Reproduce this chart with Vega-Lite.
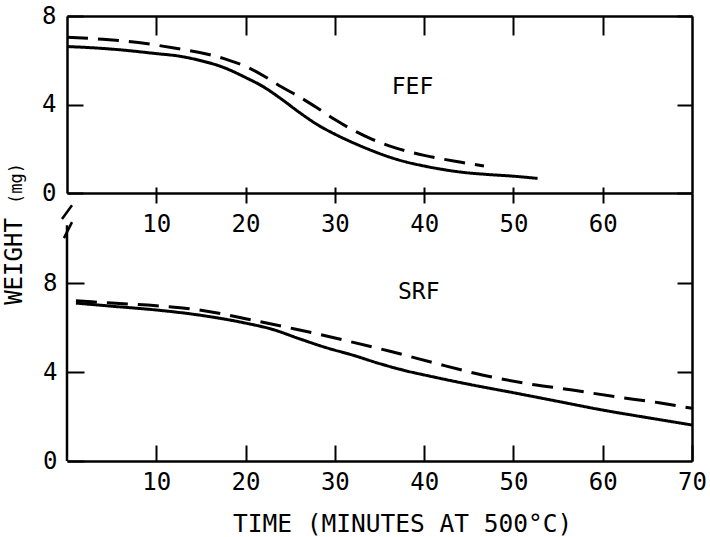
{
  "$schema": "https://vega.github.io/schema/vega-lite/v6.json",
  "padding": {"left": 2, "top": 4, "right": 17, "bottom": 60},
  "bounds": "flush",
  "spacing": 0,
  "config": {
    "view": {"stroke": null},
    "font": "DejaVu Sans Mono",
    "axis": {
      "grid": false,
      "domainColor": "black",
      "domainWidth": 2.5,
      "tickColor": "black",
      "tickWidth": 2,
      "labelColor": "black",
      "labelFont": "DejaVu Sans Mono",
      "labelFontSize": 24,
      "labelFlush": false,
      "titleFont": "DejaVu Sans Mono",
      "titleColor": "black",
      "titleFontWeight": "normal"
    }
  },
  "datasets": {
    "curves": [
      {"panel": "FEF", "run": "A", "time": 0, "weight": 6.62},
      {"panel": "FEF", "run": "A", "time": 3, "weight": 6.56},
      {"panel": "FEF", "run": "A", "time": 6, "weight": 6.47},
      {"panel": "FEF", "run": "A", "time": 10, "weight": 6.3},
      {"panel": "FEF", "run": "A", "time": 12.5, "weight": 6.19},
      {"panel": "FEF", "run": "A", "time": 15, "weight": 5.98},
      {"panel": "FEF", "run": "A", "time": 17.5, "weight": 5.68},
      {"panel": "FEF", "run": "A", "time": 20, "weight": 5.22},
      {"panel": "FEF", "run": "A", "time": 22, "weight": 4.8},
      {"panel": "FEF", "run": "A", "time": 24, "weight": 4.25},
      {"panel": "FEF", "run": "A", "time": 26, "weight": 3.65},
      {"panel": "FEF", "run": "A", "time": 28, "weight": 3.1},
      {"panel": "FEF", "run": "A", "time": 30, "weight": 2.66},
      {"panel": "FEF", "run": "A", "time": 32, "weight": 2.28},
      {"panel": "FEF", "run": "A", "time": 34, "weight": 1.94},
      {"panel": "FEF", "run": "A", "time": 36, "weight": 1.64},
      {"panel": "FEF", "run": "A", "time": 38, "weight": 1.4},
      {"panel": "FEF", "run": "A", "time": 40, "weight": 1.22},
      {"panel": "FEF", "run": "A", "time": 42, "weight": 1.07},
      {"panel": "FEF", "run": "A", "time": 44, "weight": 0.95},
      {"panel": "FEF", "run": "A", "time": 47, "weight": 0.84},
      {"panel": "FEF", "run": "A", "time": 50, "weight": 0.76},
      {"panel": "FEF", "run": "A", "time": 52.7, "weight": 0.66},
      {"panel": "FEF", "run": "B", "time": 0, "weight": 7.04},
      {"panel": "FEF", "run": "B", "time": 4, "weight": 6.95},
      {"panel": "FEF", "run": "B", "time": 8, "weight": 6.8},
      {"panel": "FEF", "run": "B", "time": 12, "weight": 6.55},
      {"panel": "FEF", "run": "B", "time": 16, "weight": 6.25},
      {"panel": "FEF", "run": "B", "time": 18, "weight": 6.02},
      {"panel": "FEF", "run": "B", "time": 20, "weight": 5.72},
      {"panel": "FEF", "run": "B", "time": 22, "weight": 5.3},
      {"panel": "FEF", "run": "B", "time": 24, "weight": 4.8},
      {"panel": "FEF", "run": "B", "time": 26, "weight": 4.35},
      {"panel": "FEF", "run": "B", "time": 28, "weight": 3.85},
      {"panel": "FEF", "run": "B", "time": 30, "weight": 3.32},
      {"panel": "FEF", "run": "B", "time": 32, "weight": 2.85},
      {"panel": "FEF", "run": "B", "time": 34, "weight": 2.46},
      {"panel": "FEF", "run": "B", "time": 36, "weight": 2.14},
      {"panel": "FEF", "run": "B", "time": 38, "weight": 1.9},
      {"panel": "FEF", "run": "B", "time": 40, "weight": 1.7},
      {"panel": "FEF", "run": "B", "time": 42, "weight": 1.54},
      {"panel": "FEF", "run": "B", "time": 44, "weight": 1.4},
      {"panel": "FEF", "run": "B", "time": 46.7, "weight": 1.22},
      {"panel": "SRF", "run": "A", "time": 1, "weight": 7.1},
      {"panel": "SRF", "run": "A", "time": 5, "weight": 6.96},
      {"panel": "SRF", "run": "A", "time": 10, "weight": 6.79},
      {"panel": "SRF", "run": "A", "time": 15, "weight": 6.55},
      {"panel": "SRF", "run": "A", "time": 20, "weight": 6.2},
      {"panel": "SRF", "run": "A", "time": 23, "weight": 5.92},
      {"panel": "SRF", "run": "A", "time": 26, "weight": 5.5},
      {"panel": "SRF", "run": "A", "time": 29, "weight": 5.1},
      {"panel": "SRF", "run": "A", "time": 32, "weight": 4.76},
      {"panel": "SRF", "run": "A", "time": 35, "weight": 4.38},
      {"panel": "SRF", "run": "A", "time": 38, "weight": 4.05},
      {"panel": "SRF", "run": "A", "time": 40, "weight": 3.87},
      {"panel": "SRF", "run": "A", "time": 45, "weight": 3.45},
      {"panel": "SRF", "run": "A", "time": 50, "weight": 3.07},
      {"panel": "SRF", "run": "A", "time": 55, "weight": 2.68},
      {"panel": "SRF", "run": "A", "time": 60, "weight": 2.29},
      {"panel": "SRF", "run": "A", "time": 65, "weight": 1.95},
      {"panel": "SRF", "run": "A", "time": 70, "weight": 1.62},
      {"panel": "SRF", "run": "B", "time": 1, "weight": 7.2},
      {"panel": "SRF", "run": "B", "time": 5, "weight": 7.1},
      {"panel": "SRF", "run": "B", "time": 10, "weight": 6.98},
      {"panel": "SRF", "run": "B", "time": 15, "weight": 6.78},
      {"panel": "SRF", "run": "B", "time": 20, "weight": 6.4},
      {"panel": "SRF", "run": "B", "time": 25, "weight": 5.98},
      {"panel": "SRF", "run": "B", "time": 28, "weight": 5.72},
      {"panel": "SRF", "run": "B", "time": 31.6, "weight": 5.38},
      {"panel": "SRF", "run": "B", "time": 36.4, "weight": 4.91},
      {"panel": "SRF", "run": "B", "time": 41.3, "weight": 4.39},
      {"panel": "SRF", "run": "B", "time": 46.5, "weight": 3.87},
      {"panel": "SRF", "run": "B", "time": 51.4, "weight": 3.49},
      {"panel": "SRF", "run": "B", "time": 56.6, "weight": 3.19},
      {"panel": "SRF", "run": "B", "time": 61.4, "weight": 2.89},
      {"panel": "SRF", "run": "B", "time": 66.3, "weight": 2.62},
      {"panel": "SRF", "run": "B", "time": 70, "weight": 2.37}
    ]
  },
  "vconcat": [
    {
      "width": 625,
      "height": 177,
      "resolve": {"axis": {"x": "independent", "y": "independent"}},
      "layer": [
        {
          "data": {"name": "curves"},
          "transform": [{"filter": "datum.panel === 'FEF'"}],
          "mark": {"type": "line", "color": "black", "strokeWidth": 3, "interpolate": "monotone"},
          "encoding": {
            "x": {
              "field": "time", "type": "quantitative",
              "scale": {"domain": [0, 70], "nice": false, "zero": false},
              "axis": {"orient": "top", "values": [10, 20, 30, 40, 50, 60], "labels": false, "title": null, "tickSize": -19}
            },
            "y": {
              "field": "weight", "type": "quantitative",
              "scale": {"domain": [0, 8], "nice": false},
              "axis": {
                "orient": "left", "values": [0, 4, 8], "tickSize": -16, "labelPadding": 27,
                "title": "(mg)", "titleFontSize": 17, "titleX": -46, "titleY": 167, "titleAngle": 270, "titleAlign": "center", "titleBaseline": "alphabetic"
              }
            },
            "strokeDash": {
              "field": "run", "type": "nominal",
              "scale": {"domain": ["A", "B"], "range": [[1, 0], [21, 10]]},
              "legend": null
            }
          }
        },
        {
          "data": {"values": [{"label": "FEF"}]},
          "mark": {"type": "text", "font": "DejaVu Sans Mono", "fontSize": 23, "color": "black", "align": "center", "baseline": "middle"},
          "encoding": {
            "x": {
              "datum": 38.7, "type": "quantitative",
              "scale": {"domain": [0, 70], "nice": false, "zero": false},
              "axis": {"orient": "bottom", "values": [10, 20, 30, 40, 50, 60], "title": null, "domain": false, "offset": -6, "tickSize": 16, "labelPadding": 9, "zindex": 2, "tickColor": "black", "tickWidth": 2}
            },
            "y": {
              "datum": 4.79, "type": "quantitative",
              "scale": {"domain": [0, 8], "nice": false},
              "axis": {"orient": "right", "values": [0, 4, 8], "labels": false, "title": null, "tickSize": -15}
            },
            "text": {"field": "label"}
          }
        }
      ]
    },
    {
      "width": 625,
      "height": 268,
      "resolve": {"axis": {"x": "independent", "y": "independent"}},
      "layer": [
        {
          "data": {"name": "curves"},
          "transform": [{"filter": "datum.panel === 'SRF'"}],
          "mark": {"type": "line", "color": "black", "strokeWidth": 3, "interpolate": "monotone"},
          "encoding": {
            "x": {
              "field": "time", "type": "quantitative",
              "scale": {"domain": [0, 70], "nice": false, "zero": false},
              "axis": {"orient": "top", "ticks": false, "labels": false, "title": null}
            },
            "y": {
              "field": "weight", "type": "quantitative",
              "scale": {"domain": [0, 12.05], "nice": false},
              "axis": {
                "orient": "left", "values": [0, 4, 8], "domain": false,
                "tickSize": -17, "labelPadding": 27,
                "title": "WEIGHT", "titleFontSize": 24,
                "titleX": -46, "titleY": 68, "titleAngle": 270, "titleAlign": "center", "titleBaseline": "alphabetic"
              }
            },
            "strokeDash": {
              "field": "run", "type": "nominal",
              "scale": {"domain": ["A", "B"], "range": [[1, 0], [21, 10]]},
              "legend": null
            }
          }
        },
        {
          "data": {"values": [{"label": "SRF"}]},
          "mark": {"type": "text", "font": "DejaVu Sans Mono", "fontSize": 23, "color": "black", "align": "center", "baseline": "middle"},
          "encoding": {
            "x": {
              "datum": 39.4, "type": "quantitative",
              "scale": {"domain": [0, 70], "nice": false, "zero": false},
              "axis": {
                "orient": "bottom", "values": [10, 20, 30, 40, 50, 60, 70],
                "tickSize": -16, "labelPadding": 25, "zindex": 2, "tickColor": "black", "tickWidth": 2,
                "title": "TIME (MINUTES AT 500°C)", "titleFontSize": 24.5,
                "titleX": 335, "titleY": 70, "titleAlign": "center", "titleBaseline": "alphabetic"
              }
            },
            "y": {
              "datum": 7.62, "type": "quantitative",
              "scale": {"domain": [0, 12.05], "nice": false},
              "axis": {"orient": "right", "values": [4, 8], "labels": false, "title": null, "tickSize": -15}
            },
            "text": {"field": "label"}
          }
        },
        {
          "data": {"values": [{}]},
          "mark": {"type": "rule", "color": "black", "strokeWidth": 2.5},
          "encoding": {
            "x": {"datum": 0, "type": "quantitative", "axis": null},
            "y": {"datum": 0, "type": "quantitative", "axis": null},
            "y2": {"datum": 10.6}
          }
        },
        {
          "data": {"values": [{}]},
          "mark": {"type": "rule", "color": "black", "strokeWidth": 2.5},
          "encoding": {
            "x": {"datum": -0.56, "type": "quantitative", "axis": null},
            "x2": {"datum": 0.56},
            "y": {"datum": 10.88, "type": "quantitative", "axis": null},
            "y2": {"datum": 11.5}
          }
        },
        {
          "data": {"values": [{}]},
          "mark": {"type": "rule", "color": "black", "strokeWidth": 2.5},
          "encoding": {
            "x": {"datum": -0.34, "type": "quantitative", "axis": null},
            "x2": {"datum": 0.56},
            "y": {"datum": 10.02, "type": "quantitative", "axis": null},
            "y2": {"datum": 10.74}
          }
        }
      ]
    }
  ]
}
